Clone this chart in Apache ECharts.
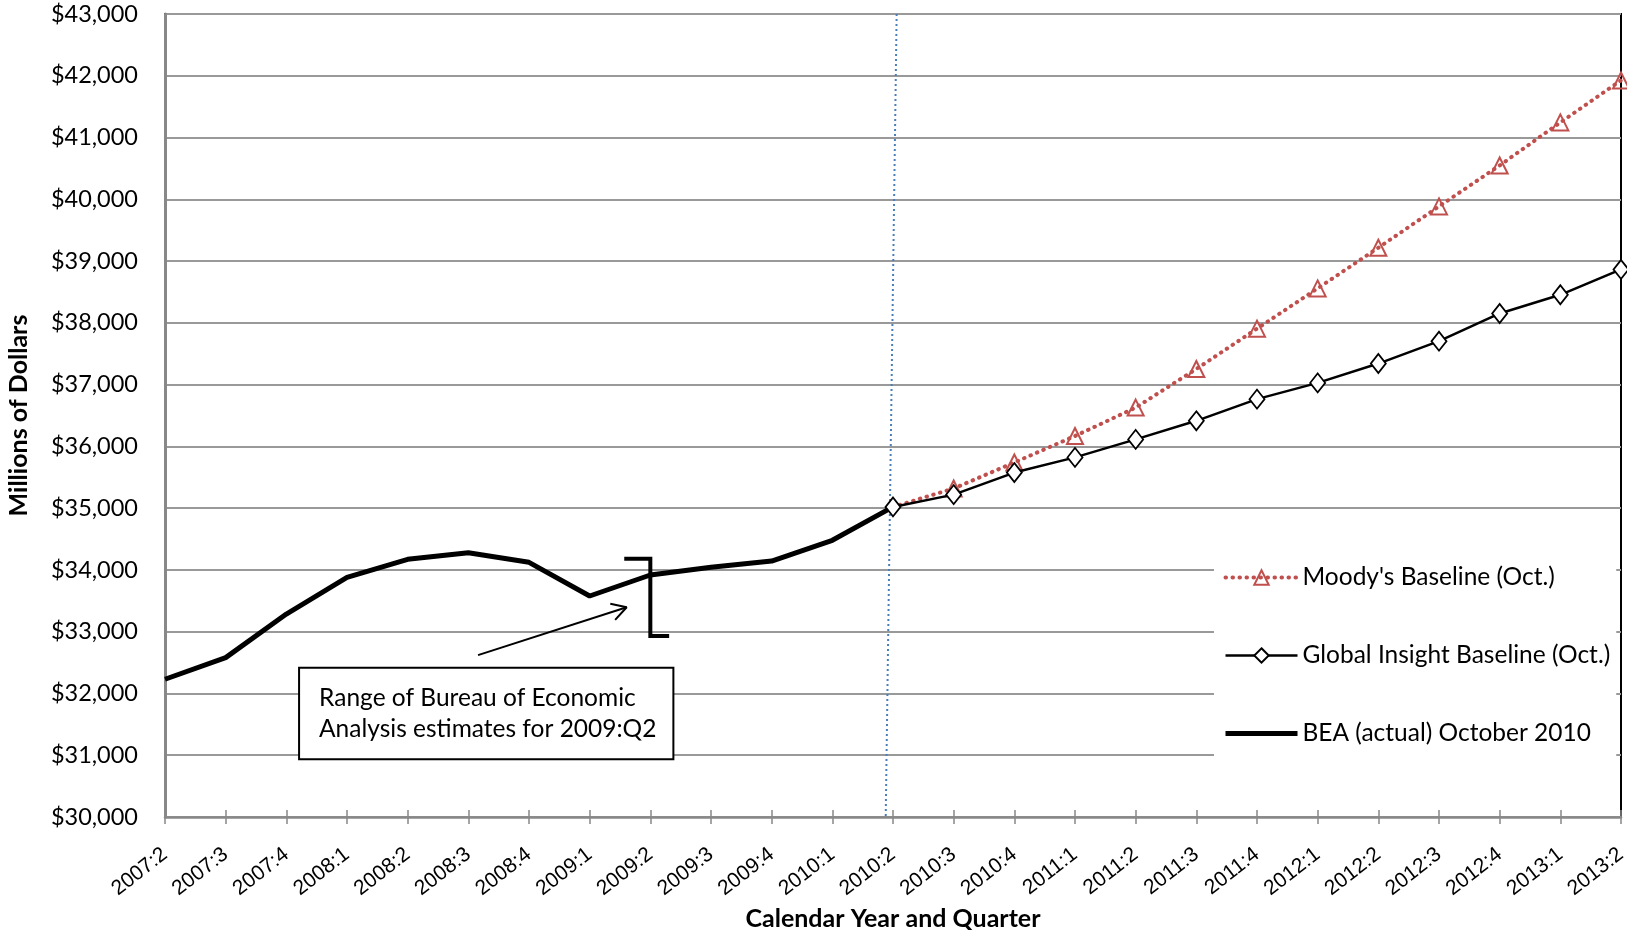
<!DOCTYPE html>
<html>
<head>
<meta charset="utf-8">
<script src="https://cdn.jsdelivr.net/npm/echarts@6/dist/echarts.min.js"></script>
<style>
html,body{margin:0;padding:0;background:#fff;}
#chart{width:1627px;height:930px;}
</style>
</head>
<body>
<div id="chart"></div>
<script>
// ---- data ----
const categories = ['2007:2','2007:3','2007:4','2008:1','2008:2','2008:3','2008:4','2009:1','2009:2','2009:3','2009:4','2010:1','2010:2','2010:3','2010:4','2011:1','2011:2','2011:3','2011:4','2012:1','2012:2','2012:3','2012:4','2013:1','2013:2'];
// BEA actual, 2007:2 .. 2010:2
const beaActual = [32230, 32580, 33285, 33880, 34172, 34279, 34123, 33578, 33918, 34042, 34144, 34480, 35020];
// forecasts, 2010:2 .. 2013:2
const globalInsight = [35020, 35219, 35576, 35822, 36113, 36414, 36765, 37028, 37341, 37703, 38152, 38454, 38865];
const moodys = [35020, 35318, 35740, 36168, 36628, 37253, 37906, 38558, 39216, 39885, 40548, 41245, 41924];
const seriesNames = ["Moody's Baseline (Oct.)", 'Global Insight Baseline (Oct.)', 'BEA (actual) October 2010'];
const yMin = 30000, yMax = 43000, yStep = 1000;
// annotations in axis units: [quarter index, dollars]
const cutoffLine = [[12.06, 43000], [11.88, 30000]];
const revisionBracket = [[7.57, 34180], [8.0, 34180], [8.0, 32930], [8.31, 32930]];
const arrowShaft = [[5.16, 32620], [7.61, 33395]];
const arrowHead = [[7.34, 33453], [7.61, 33395], [7.42, 33191]];
const noteBox = [[2.21, 32417], [8.38, 30934]];
const noteLines = ['Range of Bureau of Economic', 'Analysis estimates for 2009:Q2'];

// ---- build ----
const forecastStart = categories.indexOf('2010:2');
const beaData = categories.map((c, i) => i < beaActual.length ? beaActual[i] : '-');
const giData = categories.map((c, i) => i >= forecastStart ? globalInsight[i - forecastStart] : '-');
const mdData = categories.map((c, i) => {
  if (i < forecastStart) return '-';
  const v = moodys[i - forecastStart];
  return i === forecastStart ? {value: v, symbol: 'none'} : v;
});

const W = 1627, H = 930;
const G = {left: 165, right: 6, top: 14, bottom: 113};
const gridH = H - G.top - G.bottom;
const calibri = 'Lato, "Open Sans", sans-serif';
const RED = '#c0504d';
const mdLine = {color: RED, width: 4, type: [0.5, 6.5], cap: 'round'};
const giLine = {color: '#000', width: 2.5};
const beaLine = {color: '#000', width: 5};

const chart = echarts.init(document.getElementById('chart'), null, {renderer: 'canvas'});
chart.setOption({
  animation: false,
  backgroundColor: '#fff',
  grid: Object.assign({show: true, borderColor: '#000', borderWidth: 2, backgroundColor: 'transparent',
    containLabel: false, outerBoundsMode: 'none'}, G),
  legend: {
    data: [
      {name: seriesNames[0], lineStyle: mdLine},
      {name: seriesNames[1], lineStyle: giLine},
      {name: seriesNames[2], lineStyle: beaLine, itemStyle: {color: 'rgba(0,0,0,0)', borderWidth: 0, opacity: 0}}
    ],
    orient: 'vertical',
    left: 1214, top: 538,
    padding: [27, 6, 30, 9],
    itemWidth: 72, itemHeight: 18, itemGap: 53,
    backgroundColor: '#fff',
    textStyle: {fontFamily: calibri, fontSize: 24.5, color: '#000', lineHeight: 24}
  },
  xAxis: [{
    type: 'category', data: categories, boundaryGap: false, position: 'bottom',
    name: 'Calendar Year and Quarter', nameLocation: 'middle', nameGap: 84,
    nameTextStyle: {fontFamily: calibri, fontWeight: 'bold', fontSize: 25, color: '#000'},
    axisLine: {lineStyle: {color: '#888', width: 2.5}},
    axisTick: {length: 7, lineStyle: {color: '#888', width: 1.5}},
    axisLabel: {interval: 0, rotate: 38, margin: 35, fontFamily: '"Liberation Sans", Arial, sans-serif', fontSize: 21, color: '#000'},
    splitLine: {show: false}
  }, {
    type: 'category', data: categories, boundaryGap: false, position: 'top', offset: -gridH,
    axisLine: {show: false}, axisLabel: {show: false},
    axisTick: {length: 7, lineStyle: {color: '#888', width: 1.5}},
    splitLine: {show: false}
  }, {
    type: 'value', min: 0, max: categories.length - 1, show: false
  }],
  yAxis: [{
    type: 'value', min: yMin, max: yMax, interval: yStep,
    name: 'Millions of Dollars', nameLocation: 'middle', nameRotate: 90, nameGap: 134,
    nameTextStyle: {fontFamily: calibri, fontWeight: 'bold', fontSize: 25, color: '#000'},
    axisLine: {show: true, lineStyle: {color: '#888', width: 3}},
    axisTick: {show: false},
    axisLabel: {margin: 27, fontFamily: calibri, fontSize: 23.5, color: '#000',
      formatter: v => '$' + v.toLocaleString('en-US')},
    splitLine: {lineStyle: {color: '#999', width: 2}}
  }],
  series: [{
    name: seriesNames[2], type: 'line', data: beaData, symbol: 'none', z: 3,
    lineStyle: beaLine, itemStyle: {color: '#000'}
  }, {
    name: seriesNames[0], type: 'line', data: mdData, z: 4,
    symbol: 'triangle', symbolSize: [16, 16], showAllSymbol: true,
    lineStyle: mdLine,
    itemStyle: {color: 'rgba(255,255,255,0)', borderColor: RED, borderWidth: 2}
  }, {
    name: seriesNames[1], type: 'line', data: giData, z: 5,
    symbol: 'diamond', symbolSize: [15, 19], showAllSymbol: true,
    lineStyle: giLine,
    itemStyle: {color: '#fff', borderColor: '#000', borderWidth: 1.8}
  }, {
    type: 'line', xAxisIndex: 2, data: cutoffLine, symbol: 'none', z: 2,
    lineStyle: {color: '#4a7ebb', width: 2, type: [2, 3]}
  }, {
    type: 'line', xAxisIndex: 2, data: revisionBracket, symbol: 'none', z: 3,
    lineStyle: {color: '#000', width: 4, join: 'miter'}
  }, {
    type: 'line', xAxisIndex: 2, data: arrowShaft, symbol: 'none', z: 3,
    lineStyle: {color: '#000', width: 2}
  }, {
    type: 'line', xAxisIndex: 2, data: arrowHead, symbol: 'none', z: 3,
    lineStyle: {color: '#000', width: 2}
  }]
});

const p0 = chart.convertToPixel({xAxisIndex: 2, yAxisIndex: 0}, noteBox[0]);
const p1 = chart.convertToPixel({xAxisIndex: 2, yAxisIndex: 0}, noteBox[1]);
chart.setOption({
  graphic: [{
    type: 'rect', z: 100,
    shape: {x: p0[0], y: p0[1], width: p1[0] - p0[0], height: p1[1] - p0[1]},
    style: {fill: '#fff', stroke: '#000', lineWidth: 2}
  }, {
    type: 'text', z: 101,
    x: p0[0] + 20, y: (p0[1] + p1[1]) / 2,
    style: {text: noteLines.join('\n'), fill: '#000', font: '24.5px ' + calibri,
      lineHeight: 31, verticalAlign: 'middle', align: 'left'}
  }]
});
</script>
</body>
</html>
